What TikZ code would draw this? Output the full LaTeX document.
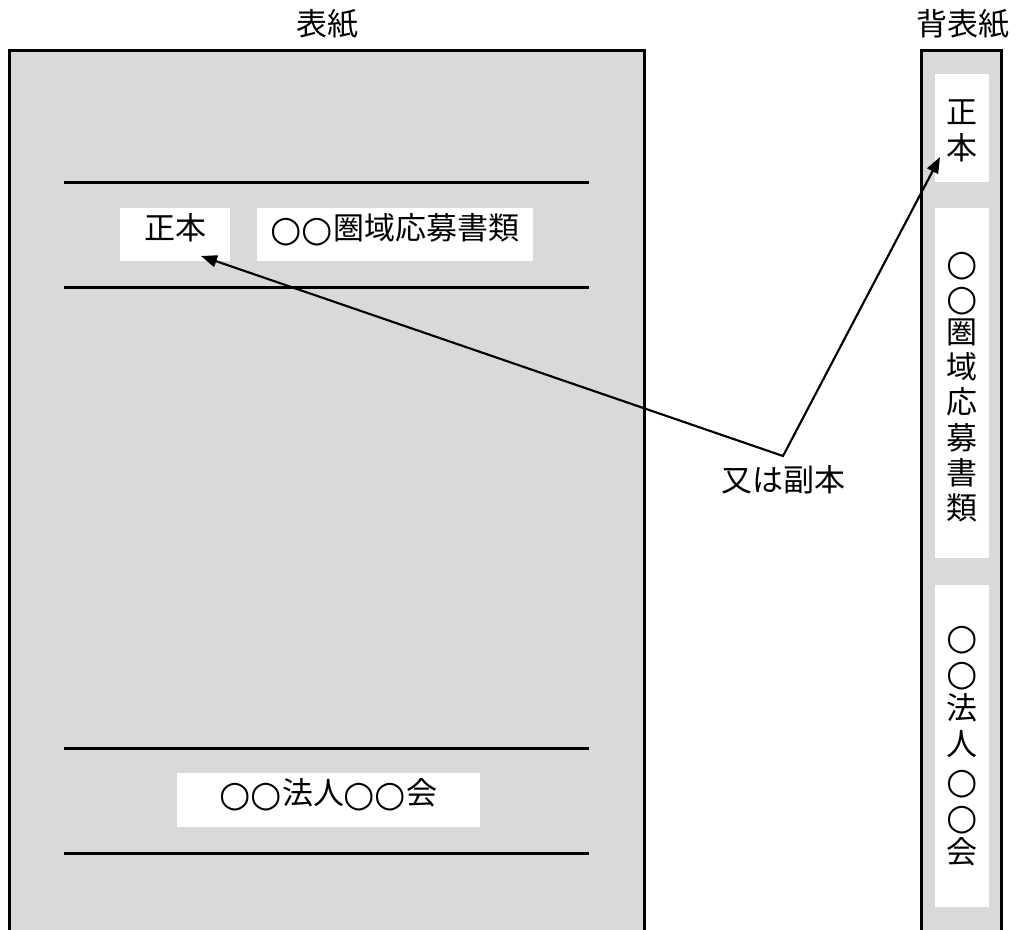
\documentclass[tikz,border=0pt]{standalone}
\usepackage{fontspec}
\setmainfont{Noto Sans CJK JP}
\newfontfamily\circfont{DejaVu Sans}
\usetikzlibrary{arrows.meta}
\definecolor{paper}{HTML}{D9D9D9}
\newcommand{\oo}{\makebox[1em]{\raisebox{-1.5pt}{\fontsize{27pt}{27pt}\circfont ○}}}
\newcommand{\vtxt}[3]{\vbox{\kern#2\baselineskip=#1\lineskiplimit=-100pt\lineskip=0pt\halign{\hfil##\hfil\cr #3\crcr}}}
\begin{document}
\begin{tikzpicture}[x=0.75pt,y=-0.75pt,
  every node/.style={font=\fontsize{23.25pt}{28pt}\selectfont},
  wbox/.style={fill=white,inner sep=0pt,text height=0.8em,text depth=0.06em},
  spinebox/.style={fill=white,inner sep=0pt,minimum width=40.5pt},
  rule/.style={line width=2.25pt},
  border/.style={line width=2.25pt},
  conn/.style={line width=1.6pt,line join=miter,{Triangle[length=12pt,width=9pt]}-{Triangle[length=12pt,width=9pt]}}]
\useasboundingbox (0,0) rectangle (1016,929);
\clip (0,0) rectangle (1016,929);
% front cover
\fill[paper] (9.5,50.5) rectangle (644.5,940);
\draw[border] (9.5,940) |- (644.5,50.5) -- (644.5,940);
\draw[rule] (64,182) -- (589,182);
\draw[rule] (64,287) -- (589,287);
\draw[rule] (64,748) -- (589,748);
\draw[rule] (64,853) -- (589,853);
\node (t1) at (327,24) {表紙};
\node[wbox,minimum width=82.5pt,minimum height=39.75pt] (seihonF) at (175,234.5) {正本};
\node[wbox,minimum width=207pt,minimum height=39.75pt] (titleF) at (395,234.5) {\oo\oo 圏域応募書類};
\node[wbox,minimum width=227.25pt,minimum height=40.5pt] (corpF) at (328.5,800) {\oo\oo 法人\oo\oo 会};
% spine
\fill[paper] (921.7,50.5) rectangle (1001.7,940);
\draw[border] (921.7,940) |- (1001.7,50.5) -- (1001.7,940);
\node (t2) at (962.5,24) {背表紙};
\node[spinebox,minimum height=81pt] (seihonS) at (962,128) {\vtxt{27.4pt}{4.5pt}{正\cr 本}};
\node[spinebox,minimum height=262.5pt] (titleS) at (962,383) {\vtxt{26.4pt}{6pt}{\oo\cr \oo\cr 圏\cr 域\cr 応\cr 募\cr 書\cr 類}};
\node[spinebox,minimum height=241.5pt] (corpS) at (962,746) {\vtxt{27pt}{0pt}{\oo\cr \oo\cr 法\cr 人\cr \oo\cr \oo\cr 会}};
% connectors
\node (lbl) at (783.5,480) {又は副本};
\coordinate (v) at (783,456);
\coordinate (tipF) at (201,256);
\coordinate (tipS) at (940,157);
\draw[conn] (tipF) -- (v) -- (tipS);
\end{tikzpicture}
\end{document}
